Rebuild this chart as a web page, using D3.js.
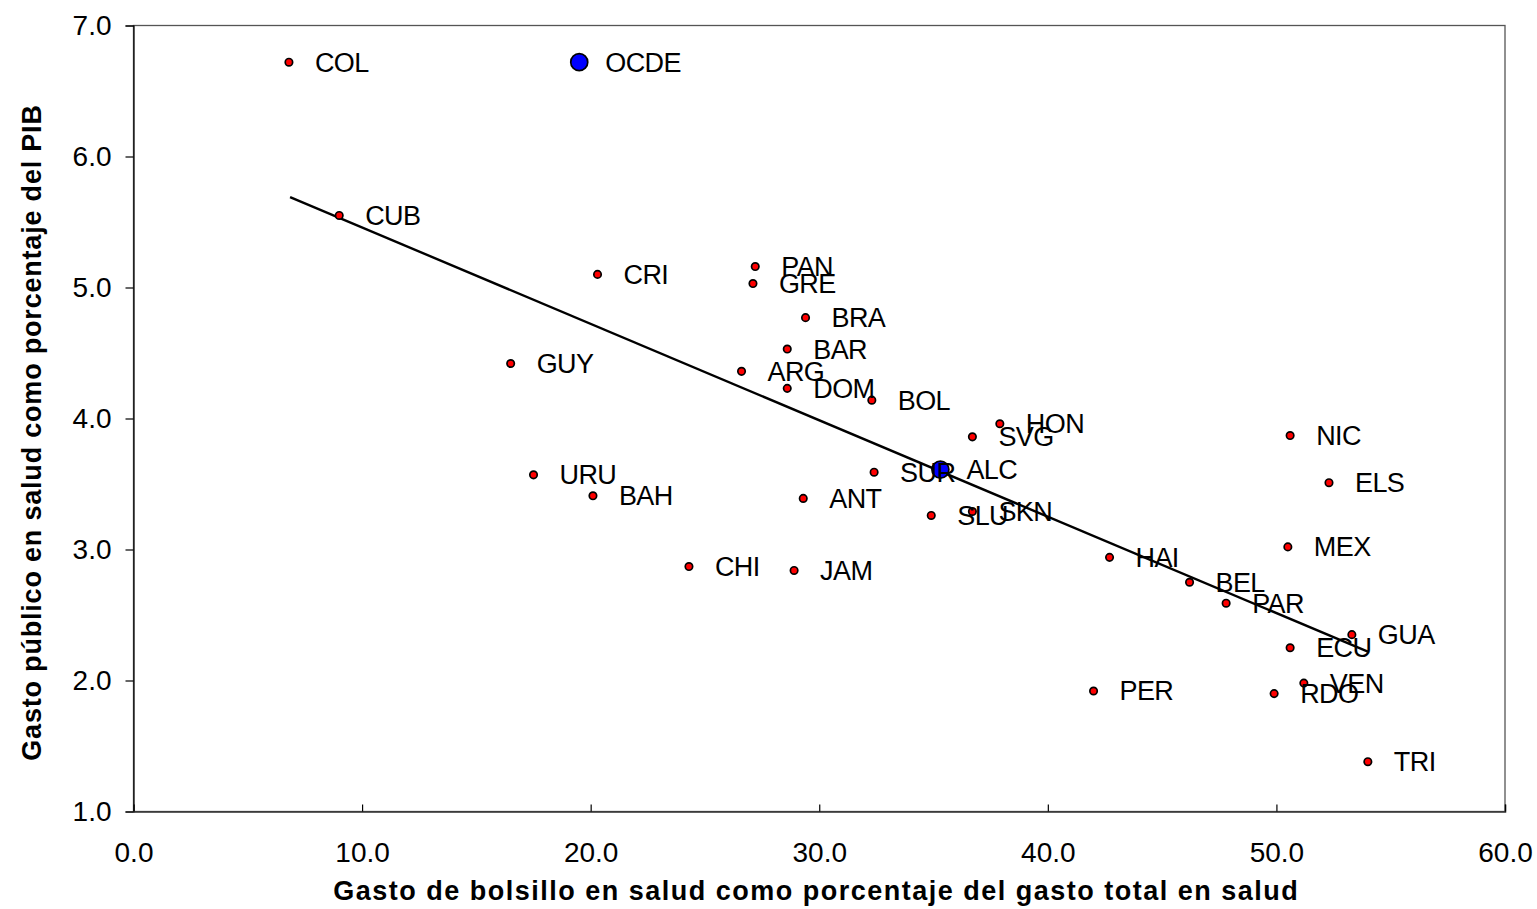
<!DOCTYPE html>
<html>
<head>
<meta charset="utf-8">
<script src="https://cdn.jsdelivr.net/npm/d3@7"></script>
<style>
  html, body { margin: 0; padding: 0; background: #fff; }
  svg { display: block; font-family: "Liberation Sans", Arial, sans-serif; }
</style>
</head>
<body>
<svg id="chart" width="1537" height="909"></svg>
<script>
// ---- Data ----
const countries = ["COL","OCDE","CUB","CRI","PAN","GRE","BRA","BAR","ARG","DOM","BOL","HON","SVG","SUR","ALC","ANT","SLU","SKN","GUY","URU","BAH","CHI","JAM","NIC","ELS","MEX","HAI","BEL","PAR","GUA","ECU","VEN","RDO","PER","TRI"];
const gastoBolsillo = [6.8,19.5,9.0,20.3,27.2,27.1,29.4,28.6,26.6,28.6,32.3,37.9,36.7,32.4,35.3,29.3,34.9,36.7,16.5,17.5,20.1,24.3,28.9,50.6,52.3,50.5,42.7,46.2,47.8,53.3,50.6,51.2,49.9,42.0,54.0];
const gastoPublico = [6.72,6.72,5.55,5.10,5.16,5.03,4.77,4.53,4.36,4.23,4.14,3.96,3.86,3.59,3.61,3.39,3.26,3.29,4.42,3.57,3.41,2.87,2.84,3.87,3.51,3.02,2.94,2.75,2.59,2.35,2.25,1.98,1.90,1.92,1.38];
const highlighted = ["OCDE","ALC"];
const trendX = [6.85, 54.0];
const trendY = [5.69, 2.22];
const xTicks = [0,10,20,30,40,50,60];
const yTicks = [1,2,3,4,5,6,7];
const xTitle = "Gasto de bolsillo en salud como porcentaje del gasto total en salud";
const yTitle = "Gasto público en salud como porcentaje del PIB";

// ---- Layout ----
const svg = d3.select("#chart");
const mLeft = 133.5, mRight = 1505, mTop = 25.5, mBottom = 811.5;
const x = d3.scaleLinear().domain([0, 60]).range([mLeft, mRight]);
const y = d3.scaleLinear().domain([1, 7]).range([mBottom, mTop]);
const fmt = d3.format(".1f");

// plot border
svg.append("rect")
  .attr("x", mLeft).attr("y", mTop)
  .attr("width", mRight - mLeft).attr("height", mBottom - mTop)
  .attr("fill", "none").attr("stroke", "#555").attr("stroke-width", 1.3);

// Y axis
const yAxis = svg.append("g")
  .attr("transform", `translate(${mLeft},0)`)
  .call(d3.axisLeft(y).tickValues(yTicks).tickFormat(fmt).tickSize(8).tickPadding(14));
yAxis.select(".domain").attr("stroke", "#000").attr("stroke-width", 1.2);
yAxis.selectAll(".tick line").attr("stroke", "#000").attr("stroke-width", 1.2);
yAxis.selectAll(".tick text").attr("font-size", 28).attr("fill", "#000")
  .attr("font-family", "Liberation Sans, Arial, sans-serif");

// X axis
const xAxis = svg.append("g")
  .attr("transform", `translate(0,${mBottom})`)
  .call(d3.axisBottom(x).tickValues(xTicks).tickFormat(fmt).tickSize(-7).tickPadding(0));
xAxis.select(".domain").attr("stroke", "#333").attr("stroke-width", 1.5);
xAxis.selectAll(".tick line").attr("stroke", "#000").attr("stroke-width", 1.2);
xAxis.selectAll(".tick text").attr("font-size", 28).attr("fill", "#000")
  .attr("font-family", "Liberation Sans, Arial, sans-serif")
  .attr("y", 50).attr("dy", 0);

// trend line
const trend = trendX.map((d, i) => [d, trendY[i]]);
svg.append("path")
  .datum(trend)
  .attr("d", d3.line().x(d => x(d[0])).y(d => y(d[1])))
  .attr("fill", "none").attr("stroke", "#000").attr("stroke-width", 2.4);

// points
const data = countries.map((c, i) => ({ c, xv: gastoBolsillo[i], yv: gastoPublico[i] }));
const normal = data.filter(d => !highlighted.includes(d.c));
const hi = data.filter(d => highlighted.includes(d.c));

svg.append("g").selectAll("circle").data(normal).join("circle")
  .attr("cx", d => x(d.xv)).attr("cy", d => y(d.yv))
  .attr("r", 3.7).attr("fill", "#ff0000").attr("stroke", "#000").attr("stroke-width", 1.7);

svg.append("g").selectAll("circle").data(hi).join("circle")
  .attr("cx", d => x(d.xv)).attr("cy", d => y(d.yv))
  .attr("r", 8.5).attr("fill", "#0000ff").attr("stroke", "#000").attr("stroke-width", 1.7);

// labels
svg.append("g").selectAll("text").data(data).join("text")
  .attr("x", d => x(d.xv) + 26).attr("y", d => y(d.yv) + 9.5)
  .attr("font-size", 27).attr("letter-spacing", -0.6).attr("fill", "#000")
  .text(d => d.c);

// axis titles
svg.append("text")
  .attr("x", (mLeft + mRight) / 2 - 3).attr("y", 900)
  .attr("text-anchor", "middle").attr("font-weight", "bold").attr("font-size", 27)
  .attr("letter-spacing", 1.5)
  .attr("fill", "#000").text(xTitle);

svg.append("text")
  .attr("transform", `translate(41,${(mTop + mBottom) / 2 + 14}) rotate(-90)`)
  .attr("text-anchor", "middle").attr("font-weight", "bold").attr("font-size", 27)
  .attr("letter-spacing", 0.8)
  .attr("fill", "#000").text(yTitle);
</script>
</body>
</html>
